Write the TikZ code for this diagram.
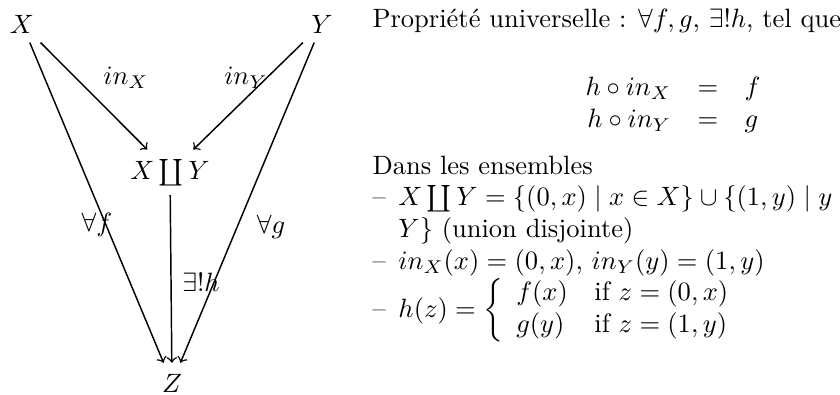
\documentclass[tikz,border=0pt]{standalone}
\usepackage{amsmath,amssymb}
\begin{document}
\begin{tikzpicture}[x=0.3774pt,y=-0.3774pt,
  obj/.style={inner sep=3.4pt,anchor=base},
  lab/.style={inner sep=1pt},
  arr/.style={->,line width=0.55pt}]
\useasboundingbox (0,0) rectangle (840,394);
\node[obj] (X) at (22,33) {$X$};
\node[obj] (Y) at (322,33) {$Y$};
\node[obj] (S) at (170,179) {$X\coprod Y$};
\node[obj,inner sep=4pt] (Z) at (172,392) {$Z$};
\draw[arr] (X) -- (S);
\draw[arr] (Y) -- (S);
\draw[arr] (X) -- (Z);
\draw[arr] (Y) -- (Z);
\draw[arr] (S) -- (Z);
\node[lab] (lx) at (126,78) {$in_X$};
\node[lab] (ly) at (246,78) {$in_Y$};
\node[lab] (lf) at (97,225) {$\forall f$};
\node[lab] (lg) at (271,227) {$\forall g$};
\node[lab] (lh) at (201,282) {$\exists ! h$};
\node[anchor=base west,inner sep=0pt] (title) at (372,27) {Propriété universelle : $\forall f, g$, $\exists ! h$, tel que};
\node[inner sep=0pt] (eq) at (673,105) {$\begin{array}{rcl} h\circ in_X & = & f\\ h\circ in_Y & = & g\end{array}$};
\node[anchor=base west,inner sep=0pt] (list) at (372,174) {\begin{minipage}[t]{199pt}
Dans les ensembles
\begin{list}{--}{\setlength{\leftmargin}{9.8pt}\setlength{\labelwidth}{5pt}\setlength{\labelsep}{4.8pt}\setlength{\itemsep}{0pt}\setlength{\parsep}{0pt}\setlength{\topsep}{0pt}\setlength{\partopsep}{0pt}}
\item $X\coprod Y=\{(0,x)\mid x\in X\}\cup\{(1,y)\mid y\in{}$\newline$Y\}$ (union disjointe)
\item $in_X(x)=(0,x)$, $in_Y(y)=(1,y)$
\item $h(z)=\left\{\begin{array}{ll} f(x) & \mbox{if } z=(0,x)\\ g(y) & \mbox{if } z=(1,y)\end{array}\right.$
\end{list}
\end{minipage}};
\end{tikzpicture}
\end{document}
